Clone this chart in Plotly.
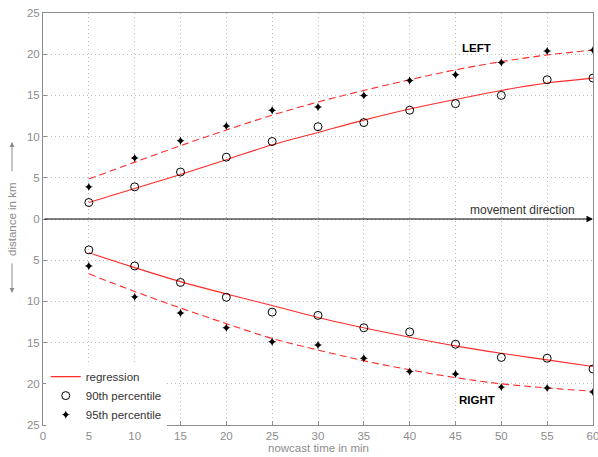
import plotly.graph_objects as go

time_min = [5, 10, 15, 20, 25, 30, 35, 40, 45, 50, 55, 60]

# LEFT side (positive distance)
left_p90 = [2.0, 3.9, 5.7, 7.5, 9.4, 11.2, 11.7, 13.2, 14.0, 15.0, 16.9, 17.1]
left_p95 = [3.9, 7.4, 9.5, 11.3, 13.2, 13.6, 15.0, 16.8, 17.5, 19.0, 20.4, 20.5]
left_reg90 = [2.0, 3.7, 5.4, 7.2, 9.0, 10.5, 12.0, 13.35, 14.5, 15.6, 16.5, 17.1]
left_reg95 = [4.85, 6.9, 8.9, 10.8, 12.6, 14.2, 15.6, 16.9, 18.1, 19.1, 19.9, 20.5]

# RIGHT side (distance to the right, plotted downward)
right_p90 = [3.75, 5.7, 7.7, 9.5, 11.3, 11.7, 13.2, 13.7, 15.2, 16.8, 16.9, 18.2]
right_p95 = [5.7, 9.45, 11.4, 13.2, 14.9, 15.3, 16.9, 18.5, 18.8, 20.4, 20.5, 21.0]
right_reg90 = [4.1, 5.9, 7.6, 9.1, 10.5, 11.95, 13.2, 14.35, 15.4, 16.3, 17.1, 17.9]
right_reg95 = [6.65, 8.8, 10.8, 12.7, 14.5, 15.9, 17.2, 18.3, 19.25, 20.0, 20.5, 20.9]

x_ticks = [0, 5, 10, 15, 20, 25, 30, 35, 40, 45, 50, 55, 60]
y_ticks = [-25, -20, -15, -10, -5, 0, 5, 10, 15, 20, 25]
y_ticklabels = [str(abs(v)) for v in y_ticks]

RED = "#ff2a2a"
GRAY = "#8c8c8c"
FONT = "Liberation Sans, Arial, sans-serif"

fig = go.Figure()

neg = lambda a: [-v for v in a]

# regression lines
fig.add_trace(go.Scatter(x=time_min, y=left_reg90, mode="lines", name="regression",
                         line=dict(color=RED, width=1.1, shape="spline"), showlegend=True))
fig.add_trace(go.Scatter(x=time_min, y=neg(right_reg90), mode="lines", name="regression",
                         line=dict(color=RED, width=1.1, shape="spline"), showlegend=False))
fig.add_trace(go.Scatter(x=time_min, y=left_reg95, mode="lines", name="regression 95",
                         line=dict(color=RED, width=1.1, dash="7px,4px", shape="spline"), showlegend=False))
fig.add_trace(go.Scatter(x=time_min, y=neg(right_reg95), mode="lines", name="regression 95",
                         line=dict(color=RED, width=1.1, dash="7px,4px", shape="spline"), showlegend=False))

# 90th percentile circles
fig.add_trace(go.Scatter(x=time_min, y=left_p90, mode="markers", name="90th percentile",
                         marker=dict(symbol="circle-open", size=8, color="black", line=dict(width=1)),
                         showlegend=True))
fig.add_trace(go.Scatter(x=time_min, y=neg(right_p90), mode="markers", name="90th percentile",
                         marker=dict(symbol="circle-open", size=8, color="black", line=dict(width=1)),
                         showlegend=False))
# 95th percentile stars
fig.add_trace(go.Scatter(x=time_min, y=left_p95, mode="markers", name="95th percentile",
                         marker=dict(symbol="star-diamond", size=6, color="black", line=dict(width=0)),
                         showlegend=True))
fig.add_trace(go.Scatter(x=time_min, y=neg(right_p95), mode="markers", name="95th percentile",
                         marker=dict(symbol="star-diamond", size=6, color="black", line=dict(width=0)),
                         showlegend=False))

axis_common = dict(
    showgrid=True, gridcolor="#bdbdbd", griddash="1px,3px", gridwidth=1,
    showline=True, linecolor=GRAY, linewidth=1, mirror=True,
    ticks="inside", ticklen=4, tickcolor=GRAY,
    tickfont=dict(family=FONT, size=11.5, color=GRAY),
    zeroline=False, ticklabeloverflow="allow", automargin=False,
)

fig.update_layout(
    width=598, height=457,
    margin=dict(l=43, r=5, t=13, b=32),
    paper_bgcolor="white", plot_bgcolor="white",
    font=dict(family=FONT, size=11.5, color="#333333"),
    xaxis=dict(range=[0, 60], tickvals=x_ticks, **axis_common),
    yaxis=dict(range=[-25, 25], tickvals=y_ticks, ticktext=y_ticklabels, **axis_common),
    legend=dict(x=0.005, y=-0.01, xanchor="left", yanchor="bottom",
                bgcolor="white", borderwidth=0,
                font=dict(family=FONT, size=11.5, color="#333333"),
                itemwidth=30, tracegroupgap=0),
    showlegend=True,
)

# movement direction arrow along y=0
fig.add_annotation(x=60, y=0, ax=0, ay=0, xref="x", yref="y", axref="x", ayref="y",
                   showarrow=True, arrowhead=2, arrowsize=1.3, arrowwidth=1, arrowcolor="black",
                   text="", standoff=0)
fig.add_annotation(x=58.3, y=0, xref="x", yref="y", text="movement direction",
                   showarrow=False, xanchor="right", yanchor="bottom", yshift=0,
                   font=dict(family=FONT, size=12, color="#333333"))

fig.add_annotation(x=47.3, y=20.8, xref="x", yref="y", text="<b>LEFT</b>", showarrow=False,
                   font=dict(family=FONT, size=11.5, color="black"))
fig.add_annotation(x=47.3, y=-22.0, xref="x", yref="y", text="<b>RIGHT</b>", showarrow=False,
                   font=dict(family=FONT, size=11.5, color="black"))

# axis titles
fig.add_annotation(x=0.5, y=-0.056, xref="paper", yref="paper", text="nowcast time in min",
                   showarrow=False, yanchor="middle",
                   font=dict(family=FONT, size=11.5, color=GRAY))
fig.add_annotation(x=-0.0564, y=0.50, xref="paper", yref="paper", text="distance in km",
                   showarrow=False, textangle=-90, xanchor="center", yanchor="middle",
                   font=dict(family=FONT, size=11.5, color=GRAY))
# arrows beside the y-axis title
fig.add_annotation(x=-0.0564, y=0.6869, ax=0, ay=31, xref="paper", yref="paper",
                   axref="pixel", ayref="pixel", text="", showarrow=True, standoff=0,
                   arrowhead=2, arrowsize=1, arrowwidth=1, arrowcolor=GRAY)
fig.add_annotation(x=-0.0564, y=0.3204, ax=0, ay=-31, xref="paper", yref="paper",
                   axref="pixel", ayref="pixel", text="", showarrow=True, standoff=0,
                   arrowhead=2, arrowsize=1, arrowwidth=1, arrowcolor=GRAY)

fig.write_html("out.html")
